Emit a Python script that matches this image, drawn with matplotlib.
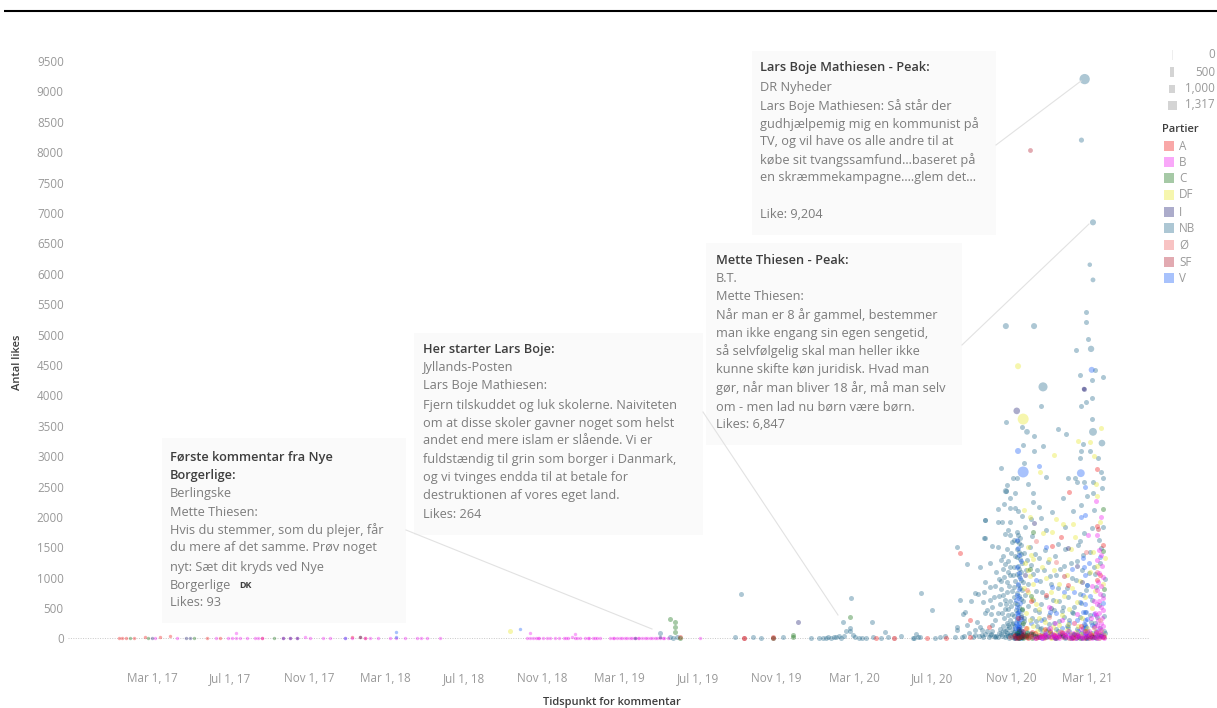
"""Likes per Facebook comment over time, by party"""

import numpy
import pandas as pd
import matplotlib
matplotlib.use('Agg')
import matplotlib.pyplot as plt
from matplotlib.patches import Rectangle

plt.rcParams['font.family'] = ['Open Sans', 'DejaVu Sans']

# days after 2017-03-01, likes
nb_points = [
    (793,95),(808,20),(813,10),(819,30),(910,20),(920,730),(938,25),(951,10),(985,25),(1029,5),(1042,10),
    (1048,15),(1052,8),(1056,25),(1060,12),(1064,30),(1068,18),(1072,35),(1076,10),(1080,45),(1084,130),
    (1079,270),(1089,170),(1089,120),(1092,660),(1094,60),(1098,30),(1104,15),(1108,8),(1115,10),(1124,270),
    (1125,20),(1138,15),(1145,100),(1149,25),(1170,40),(1188,15),(1193,70),(1196,25),(1200,744),(1199,30),
    (1189,5),(1217,470),(1223,5),(1230,30),(1238,40),(1256,1500),(1272,1220),(1293,1171),(1308,1237),
    (1301,1950),(1299,1648),(1312,1528),(1301,936),(1261,635),(1278,623),(1285,755),(1290,733),(1299,771),
    (1308,843),(1316,865),(1323,974),(1298,607),(1308,635),(1311,525),(1304,470),(1301,415),(1269,443),
    (1266,404),(1256,196),(1257,141),(1272,223),(1288,278),(1293,196),(1295,141),(1285,141),(1311,223),
    (1301,75),(1308,59),(1254,30),(1264,30),(1285,59),(1298,20),(1306,30),(1316,20),(1321,30),
    # upper cloud
    (1458,5370),(1458,5200),(1461,4925),(1442,4745),(1472,4420),(1449,4335),(1485,4300),(1467,4250),
    (1467,3960),(1451,3825),(1458,3890),(1388,3825),(1333,3560),(1358,3480),(1377,3330),(1414,3445),
    (1427,3365),(1467,3610),(1391,3165),(1360,3180),(1377,3085),(1450,3085),(1464,3085),(1453,3200),
    (1449,2970),(1477,2970),(1325,2805),(1362,2885),(1395,2655),(1482,2740),(1485,2640),(1430,2640),
    (1441,2640),(1444,2575),(1455,2575),(1469,2575),(1483,2475),(1460,2345),(1469,2395),(1422,2310),
    (1335,2525),(1333,2425),(1347,2395),(1368,2540),(1376,2395),(1339,2310),(1344,2640),(1350,2640),
    (1321,2130),(1330,2210),(1339,2150),(1347,2150),(1352,2100),(1376,2245),(1384,2160),(1405,2080),
    (1438,2100),(1451,2195),(1300,1950),(1321,1915),(1327,1915),(1339,1915),(1388,1980),(1485,1835),
    (1467,1820),(1455,1735),(1300,1650),(1336,1785),(1321,1500),(1340,1700),(1345,1620),(1358,2010),
    (1363,1840),(1372,1960),(1395,1790),(1425,1830),(1470,2120),(1478,1620),(1415,1550),(1448,1610),
    # left of the column
    (1325,1290),(1328,1140),(1330,1010),(1332,1220),(1334,930),(1336,1090),(1338,860),(1340,1180),
    (1342,780),(1344,1040),(1346,690),(1348,950),(1326,820),(1329,710),(1331,640),(1333,560),(1335,770),
    (1337,480),(1339,620),(1341,530),(1343,410),(1345,850),(1347,590),(1349,470),(1327,420),(1330,340),
    (1332,480),(1334,260),(1336,380),(1338,190),(1340,310),(1342,150),(1344,260),(1346,370),(1348,210),
    (1324,150),(1326,80),(1328,210),(1331,120),(1333,60),(1335,160),(1337,40),(1339,95),(1341,50),(1343,30),
    (1345,110),(1347,25),(1349,70),
    # dense column
    (1350,1750),(1352,1700),(1355,1660),(1351,1610),(1354,1570),(1357,1530),(1350,1480),(1353,1430),
    (1356,1390),(1351,1340),(1355,1300),(1358,1250),(1352,1200),(1354,1150),(1357,1100),(1350,1060),
    (1353,1020),(1356,970),(1360,930),(1352,880),(1355,830),(1358,790),(1350,750),(1354,700),(1357,650),
    (1360,610),(1351,560),(1354,520),(1358,470),(1352,430),(1356,380),(1361,340),(1350,300),(1354,260),
    (1358,220),(1352,180),(1356,140),(1360,100),(1351,70),(1355,40),(1359,20),(1353,10),(1362,1400),
    (1364,1130),(1366,1290),(1368,900),(1363,720),(1367,540),(1362,280),(1366,110),
    # right of the column
    (1372,1210),(1376,1060),(1380,780),(1384,1320),(1388,560),(1392,1120),(1396,690),(1400,380),(1404,900),
    (1408,250),(1412,1040),(1416,620),(1420,450),(1424,1190),(1428,830),(1432,300),(1436,1000),(1440,520),
    (1444,1280),(1448,740),(1452,1130),(1456,430),(1460,880),(1464,1420),(1468,630),(1472,1060),(1476,350),
    (1480,1240),(1484,720),(1488,980),(1374,340),(1382,210),(1390,90),(1398,160),(1406,60),(1414,120),
    (1422,40),(1430,190),(1438,80),(1446,25),(1454,170),(1462,70),(1470,210),(1478,35),(1486,130),
    (1378,470),(1386,150),(1394,35),(1402,110),(1410,20),(1418,70),(1426,15),(1434,55),(1442,10),(1450,90),
    (1458,15),(1466,45),(1474,10),(1482,60),
]
nb_extra = [
    (1370,1500),(1374,1680),(1378,1390),(1382,1130),(1386,940),(1390,760),(1394,1450),(1398,1260),(1402,1020),
    (1406,640),(1410,1360),(1414,830),(1418,1150),(1422,510),(1426,1470),(1430,680),(1434,1240),(1438,420),
    (1442,970),(1446,1530),(1450,590),(1454,1370),(1458,800),(1462,1080),(1466,270),(1470,1180),(1474,840),
    (1478,550),(1482,1490),(1486,370),(1372,90),(1376,640),(1380,280),(1384,430),(1388,180),(1392,320),
    (1396,130),(1400,240),(1404,70),(1408,470),(1412,150),(1416,280),(1420,90),(1424,360),(1428,210),
    (1432,120),(1436,440),(1440,60),(1444,160),(1448,350),(1452,30),(1456,220),(1460,120),(1464,380),
    (1468,90),(1472,250),(1476,60),(1480,170),(1484,40),(1488,90),(1326,950),(1329,1360),(1331,1720),
    (1334,1480),(1337,1270),(1339,1050),(1341,1410),(1343,1590),(1346,1180),(1348,1350),(1324,560),
    (1322,700),(1320,420),(1318,1100),(1316,310),(1314,680),(1312,130),(1310,400),(1327,40),(1329,120),
    (1332,20),(1334,85),(1336,220),(1338,15),(1340,60),(1342,240),(1344,75),(1346,15),(1348,130),(1350,25),
    (1322,90),(1318,45),(1314,35),(1310,75),(1303,130),(1296,60),(1291,35),(1282,25),(1275,90),(1268,45),
]
v_points = [
    (1350,1620),(1352,1490),(1354,1380),(1356,1270),(1351,1170),(1353,1080),(1355,990),(1352,900),(1354,810),
    (1350,720),(1353,660),(1355,590),(1351,510),(1354,450),(1352,390),(1350,330),(1353,280),(1351,230),
    (1354,190),(1352,150),(1350,110),(1353,80),(1351,50),(1354,30),(1352,15),(1349,260),(1347,180),(1356,70),
    (1357,320),(1358,120),(1384,2835),(1395,1510),(1405,850),(1412,420),(1420,180),(1428,90),(1436,1150),
    (1440,760),(1444,300),(1448,600),(1451,2000),(1457,2495),(1457,2030),(1453,1320),(1455,1180),(1457,1040),
    (1459,880),(1454,720),(1456,560),(1458,440),(1460,320),(1455,240),(1457,170),(1459,110),(1456,70),
    (1458,40),(1460,20),(1462,1250),(1465,700),(1470,410),(1474,120),(1480,1340),(1484,580),(1380,960),
    (1372,250),(1365,60),(1376,30),(1390,15),(1408,25),(1434,35),(1442,55),
    (1349,640),(1351,420),(1353,210),(1355,130),(1357,60),(1349,30),(1352,95),(1356,15),(1454,430),
    (1456,300),(1458,190),(1453,90),(1455,40),(1459,15),(1462,60),(1388,300),(1396,80),(1402,440),
    (1416,50),(1424,760),(1432,250),(1438,25),(1446,130),(1468,230),(1476,40),(1482,75),
]
df_points = [
    (1408,3020),(1482,3460),(1445,3250),(1464,3235),(1386,2740),(1362,2115),(1411,1965),(1422,1880),
    (1438,1880),(1480,1915),(1391,1735),(1405,1750),(1441,1670),(1469,1425),(1434,1465),(1470,3000),
    (1473,2550),(1476,2350),(1370,2000),(1368,1510),(1372,1380),(1376,1300),(1363,1250),(1367,1120),
    (1371,1030),(1375,900),(1362,830),(1368,760),(1374,650),(1380,560),(1385,490),(1390,1180),(1395,1000),
    (1400,1300),(1404,760),(1408,1130),(1412,610),(1416,900),(1420,380),(1424,700),(1428,1040),(1432,480),
    (1436,830),(1440,250),(1444,600),(1448,950),(1452,330),(1456,680),(1460,170),(1464,1100),(1468,500),
    (1472,780),(1476,1190),(1480,300),(1484,900),(1487,1320),(1365,420),(1370,300),(1376,210),(1382,130),
    (1388,60),(1394,270),(1400,90),(1406,190),(1412,35),(1418,130),(1424,60),(1430,240),(1436,25),(1442,110),
    (1448,45),(1454,20),(1466,80),(1474,30),(1482,130),(559,125),
    (1366,180),(1372,70),(1378,25),(1384,340),(1392,140),(1398,45),(1404,15),(1410,85),(1416,220),(1422,30),
    (1428,140),(1434,70),(1446,210),(1450,75),(1458,130),(1462,40),(1470,170),(1478,95),(1486,50),(1360,45),
]
b_points = [
    (1474,2260),(1482,2000),(1461,1700),(1475,1700),(1478,1450),(1481,1380),(1476,1290),(1483,1190),
    (1479,1080),(1485,1010),(1477,930),(1482,860),(1475,790),(1480,730),(1484,670),(1478,610),(1476,560),
    (1481,510),(1485,470),(1479,420),(1474,380),(1483,340),(1477,300),(1481,260),(1475,230),(1484,200),
    (1478,170),(1482,140),(1476,110),(1480,85),(1484,60),(1478,40),(1482,25),(1476,10),(1486,12),(1470,190),
    (1466,340),(1462,130),(1458,60),(1454,25),(1450,150),(1446,45),(1442,15),(1438,90),(1434,30),(1430,130),
    (1426,50),(1422,20),(1418,110),(1414,35),(1410,15),(1406,70),(1402,180),(1398,25),(1394,90),(1390,10),
    (1470,620),(1468,860),(1472,420),(1440,250),(1444,400),(1420,300),(1410,260),(1400,520),(1385,30),(1378,15),
    (1472,30),(1474,75),(1468,15),(1464,50),(1460,20),(1456,85),(1452,12),(1448,35),(1444,70),(1436,15),
    (1432,55),(1428,20),(1424,90),(1416,12),(1412,60),(1408,25),(1404,40),(1396,60),(1392,25),(1388,45),
]
a_points = [
    (1475,2790),(1432,2410),(1475,1850),(1419,1670),(1405,1520),(1485,1540),(1480,1050),(1430,880),(1395,720),
    (1476,960),(1372,620),(1352,340),(1364,180),(1378,90),(1390,40),(1402,130),(1414,20),(1426,65),(1438,15),
    (1450,210),(1462,35),(1474,100),(1484,25),(1262,1413),(1277,305),(1306,196),(1277,30),(1210,15),
    (1240,10),(1131,8),(969,25),(924,10),(824,25),(1348,55),(1356,25),(1368,15),(1384,50),
    (1360,130),(1366,40),(1374,110),(1382,20),(1394,160),(1408,55),(1420,95),(1444,30),(1456,120),(1468,60),
]
c_points = [
    (809,320),(816,270),(816,190),(816,100),(824,15),(1001,60),(1001,25),(969,12),(1089,360),(1375,1750),
    (1485,2130),(1370,1150),(1372,700),(1358,480),(1360,260),(1354,120),(1352,50),(1356,20),(1362,35),
    (1366,90),(1374,15),(1382,40),(1396,25),(1410,10),(1422,45),(1436,20),(1448,12),(1458,30),(1468,18),
    (1484,1440),(1486,820),(1478,60),(1470,25),
    (1350,90),(1354,15),(1358,65),(1352,25),(1356,40),(1360,12),(1364,55),(1368,25),(1376,75),
]
i_points = [
    (1008,270),(1455,4105),(1377,1900),(1430,1490),(1363,1050),(1357,350),(1354,160),(1350,60),(1358,25),
    (1348,15),(1372,70),(1384,25),(1398,45),(1412,15),(1426,30),(1440,70),(1452,12),(1460,45),(1472,18),
    (1482,35),(1404,500),(1452,930),(1444,1200),
    (1352,35),(1356,95),(1360,55),(1378,40),(1392,20),(1420,60),(1434,12),(1446,40),(1466,25),
]
sf_points = [
    (1424,1030),(1360,75),(1353,30),(1349,12),(1364,20),(1372,45),(1380,12),(1392,60),(1404,20),(1416,35),
    (1432,15),(1444,50),(1456,10),(1468,40),(1478,12),(1486,30),(1477,1800),(1352,15),(1346,35),
    (1159,10),(924,12),(969,12),(1358,40),(1368,60),(1386,30),(1410,45),(1438,30),(1462,15),
]
oe_points = [
    (1458,1420),(1412,1260),(1380,1600),(1366,800),(1400,360),(1420,110),(1440,45),(1372,25),(1392,15),
    (1464,95),(1476,1100),(1340,20),(1159,15),
]
# top of the cloud, days, likes, size value
big_nb = [(1456,9204,1200),(1451,8200,350),(1469,6847,500),(1464,6150,250),(1469,5900,300),(1333,5140,500),
          (1377,5140,500),(1391,4140,1000),(1466,4765,550),(1469,3400,800),(1483,3215,600),(1366,3400,450),
          (1333,2425,500)]
big_sf = [(1371,8030,300)]
big_df = [(1360,3610,1317),(1352,4480,500)]
big_i = [(1350,3745,600),(1455,4105,250)]
big_v = [(1360,2740,1317),(1450,2720,800),(1352,3085,500),(1467,4420,500)]

# the thin strip of 2017-2019 comments
strip_a = [(-52,12),(-47,8),(-41,15),(-28,10),(-11,18),(12,25),(28,45),(86,15),(106,12),(172,10),(312,20),(325,30),(332,10)]
strip_b = [(5,10),(39,8),(100,12),(119,8),(125,10),(131,14),(137,6),(148,10),(161,12),(165,8),(172,15),(204,10),
           (215,8),(226,12),(239,20),(247,14),(131,90),(267,10),(278,6),(301,10),(312,16),(332,14),(340,10),
           (353,12),(372,8),(381,10),(395,8),(414,14),(420,10),(429,12),(450,6),
           (590,95),(590,10),(595,12),(600,8),(605,14),(611,10),(616,12),(629,8),(644,10),(650,14),(655,18),
           (660,70),(660,12),(668,8),(676,10),(683,12),(691,8),(699,10),(715,10),(722,12),(730,8),(738,14),
           (746,10),(754,16),(761,10),(769,12),(777,8),(785,14),(793,10),(798,12),(855,12),(586,10),(603,12),
           (621,6),(635,10),(647,6),(664,8),(680,14),(688,6),(695,12),(719,6),(726,10),(734,12),(742,6),(750,14),
           (758,8),(765,14),(773,6),(781,12),(789,8),(800,16),(806,10)]
strip_c = [(-34,10),(-6,12),(66,10),(190,6)]
strip_i = [(59,8),(53,10),(0,6),(204,6),(215,14),(226,8),(325,18),(754,16),(793,18)]
strip_v = [(381,105),(381,30),(574,155),(301,8)]

tick_dates = pd.date_range('2017-03-01', '2021-03-01', freq='4MS')
tick_labels = ['Mar 1, 17', 'Jul 1, 17', 'Nov 1, 17', 'Mar 1, 18', 'Jul 1, 18', 'Nov 1, 18', 'Mar 1, 19',
               'Jul 1, 19', 'Nov 1, 19', 'Mar 1, 20', 'Jul 1, 20', 'Nov 1, 20', 'Mar 1, 21']
party_names = ['A', 'B', 'C', 'DF', 'I', 'NB', 'Ø', 'SF', 'V']
party_colors = {'A': '#f01010', 'B': '#f010f0', 'C': '#0a6a0a', 'DF': '#e8e820', 'I': '#1a1a70',
                'NB': '#1c6488', 'Ø': '#ee5a5a', 'SF': '#b01428', 'V': '#1058f8'}
size_labels = ['0', '500', '1,000', '1,317']

ALPHA = 0.36
GREY = '#999999'
TEXT = '#7c7c7c'
DARK = '#3e3e3e'
START = pd.Timestamp('2017-03-01')


def to_dates(days):
    return START + pd.to_timedelta(numpy.asarray(days, dtype=float), unit='D')


def diameter(value):
    # marker diameter in pt for a size legend value
    return (3.0 + 8.0 * numpy.asarray(value, dtype=float) / 1317) * 0.72


def draw(ax, points, party, size=13):
    pts = numpy.array(points)
    ax.scatter(to_dates(pts[:, 0]), pts[:, 1], s=size, c=party_colors[party], alpha=ALPHA, linewidths=0)


def draw_big(ax, points, party):
    pts = numpy.array(points)
    ax.scatter(to_dates(pts[:, 0]), pts[:, 1], s=diameter(pts[:, 2]) ** 2, c=party_colors[party],
               alpha=ALPHA, linewidths=0)


fig = plt.figure(figsize=(12.17, 7.08), dpi=100, facecolor='white')

# pixel mapping: 1 px is 1.561 days and 16.45 likes
ax = fig.add_axes([68 / 1217, 1 - 660 / 708, (1150 - 68) / 1217, (660 - 45) / 708])
ax.set_ylim(-354, 9765)
ax.set_xlim(to_dates([-131, 1558]))
for side in ax.spines.values():
    side.set_visible(False)
ax.axhline(0, color='#c8c8c8', lw=0.7, ls=(0, (1, 1.5)), zorder=0)

draw(ax, nb_points, 'NB')
draw(ax, nb_extra, 'NB')
draw(ax, v_points, 'V')
draw(ax, df_points, 'DF')
draw(ax, a_points, 'A')
draw(ax, c_points, 'C')
draw(ax, i_points, 'I')
draw(ax, sf_points, 'SF')
draw(ax, oe_points, 'Ø')
draw(ax, b_points, 'B')
draw_big(ax, big_nb, 'NB')
draw_big(ax, big_sf, 'SF')
draw_big(ax, big_df, 'DF')
draw_big(ax, big_i, 'I')
draw_big(ax, big_v, 'V')
draw(ax, strip_a, 'A', size=6)
draw(ax, strip_b, 'B', size=6)
draw(ax, strip_c, 'C', size=6)
draw(ax, strip_i, 'I', size=6)
draw(ax, strip_v, 'V', size=6)

ax.set_yticks(numpy.arange(0, 9501, 500))
ax.set_xticks(tick_dates)
ax.set_xticklabels(tick_labels)
ax.tick_params(axis='both', length=0, labelsize=8.4, labelcolor=GREY)
ax.tick_params(axis='x', pad=9)
ax.tick_params(axis='y', pad=3)

# everything else is placed in pixels on an overlay
ov = fig.add_axes([0, 0, 1, 1], zorder=5)
ov.set_xlim(0, 1217)
ov.set_ylim(708, 0)
ov.axis('off')
ov.patch.set_alpha(0)

ov.plot([4, 1217], [11, 11], color='black', lw=1.5, solid_capstyle='butt')
ov.text(612, 702, 'Tidspunkt for kommentar', ha='center', va='center', fontsize=8, fontweight='semibold', color=DARK)
ov.text(18, 362, 'Antal likes', ha='center', va='center', rotation=90, fontsize=8, fontweight='semibold', color=DARK)

leaders = [((996, 145), (1081, 81)), ((962, 345), (1089, 224)), ((703, 412), (838, 615)), ((406, 530), (652, 629))]
for p0, p1 in leaders:
    ov.plot([p0[0], p1[0]], [p0[1], p1[1]], color='#e2e2e2', lw=0.8)

boxes = [
    (752, 51, 244, 184, 760, [(68, 'Lars Boje Mathiesen - Peak:', 1), (87, 'DR Nyheder', 0),
                              (106, 'Lars Boje Mathiesen: Så står der', 0),
                              (124, 'gudhjælpemig mig en kommunist på', 0),
                              (142, 'TV, og vil have os alle andre til at', 0),
                              (160, 'købe sit tvangssamfund...baseret på', 0),
                              (178, 'en skræmmekampagne....glem det...', 0), (215, 'Like: 9,204', 0)]),
    (706, 243, 256, 202, 716, [(260, 'Mette Thiesen - Peak:', 1), (278, 'B.T.', 0), (296, 'Mette Thiesen:', 0),
                               (315, 'Når man er 8 år gammel, bestemmer', 0),
                               (333, 'man ikke engang sin egen sengetid,', 0),
                               (351, 'så selvfølgelig skal man heller ikke', 0),
                               (369, 'kunne skifte køn juridisk. Hvad man', 0),
                               (388, 'gør, når man bliver 18 år, må man selv', 0),
                               (407, 'om - men lad nu børn være børn.', 0), (425, 'Likes: 6,847', 0)]),
    (414, 333, 289, 202, 423, [(350, 'Her starter Lars Boje:', 1), (368, 'Jyllands-Posten', 0),
                               (386, 'Lars Boje Mathiesen:', 0),
                               (405, 'Fjern tilskuddet og luk skolerne. Naiviteten', 0),
                               (423, 'om at disse skoler gavner noget som helst', 0),
                               (441, 'andet end mere islam er slående. Vi er', 0),
                               (460, 'fuldstændig til grin som borger i Danmark,', 0),
                               (478, 'og vi tvinges endda til at betale for', 0),
                               (496, 'destruktionen af vores eget land.', 0), (514, 'Likes: 264', 0)]),
    (162, 438, 244, 185, 170, [(457, 'Første kommentar fra Nye', 1), (476, 'Borgerlige:', 1), (493, 'Berlingske', 0),
                               (512, 'Mette Thiesen:', 0), (530, 'Hvis du stemmer, som du plejer, får', 0),
                               (548, 'du mere af det samme. Prøv noget', 0), (567, 'nyt: Sæt dit kryds ved Nye', 0),
                               (585, 'Borgerlige', 0), (603, 'Likes: 93', 0)]),
]
for bx, by, bw, bh, tx, lines in boxes:
    ov.add_patch(Rectangle((bx, by), bw, bh, facecolor='#fafafa', edgecolor='none'))
    for py, line, bold in lines:
        ov.text(tx, py, line, ha='left', va='center', fontsize=9.2, color=DARK if bold else TEXT,
                fontweight='semibold' if bold else 'normal')
ov.text(239, 586, 'DK', ha='left', va='center', fontsize=6.5, fontweight='bold', color=DARK)

# size legend
rect_sizes = [(1, 10), (4, 10), (6, 8), (9, 9)]
for py, (w, h), label in zip([55, 72, 89, 105], rect_sizes, size_labels):
    ov.add_patch(Rectangle((1172 - w / 2, py - h / 2), w, h, facecolor='#d4d4d4' if w > 1 else '#eeeeee', edgecolor='none'))
    ov.text(1215, py, label, ha='right', va='center', fontsize=8.4, color=GREY)

# colour legend
ov.text(1162, 130, 'Partier', ha='left', va='center', fontsize=8, fontweight='semibold', color=DARK)
for py, name in zip([146, 162, 178, 195, 212, 228, 245, 262, 278], party_names):
    ov.add_patch(Rectangle((1164, py - 5), 10, 10, facecolor=party_colors[name], alpha=ALPHA, edgecolor='none'))
    ov.text(1179, py, name, ha='left', va='center', fontsize=8.4, color=GREY)

fig.savefig('out.png', dpi=100)
